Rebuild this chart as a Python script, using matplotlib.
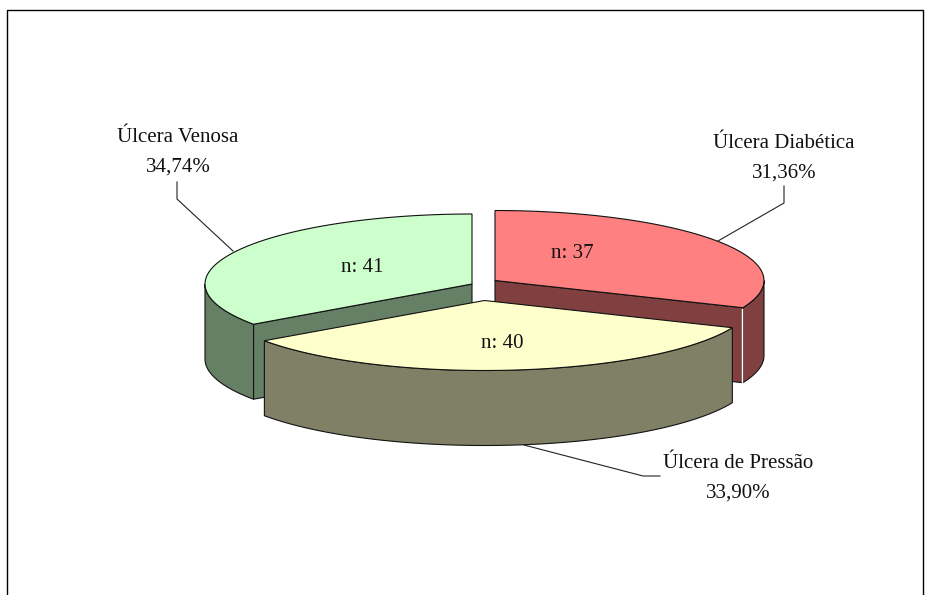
import numpy as np
import matplotlib
matplotlib.use("Agg")
import matplotlib.pyplot as plt
from matplotlib.patches import Polygon

# --- data ---
categories = ["Úlcera Diabética", "Úlcera de Pressão", "Úlcera Venosa"]
counts = [37, 40, 41]
percent_labels = ["31,36%", "33,90%", "34,74%"]

# --- style / layout (pixel space of the 931x595 canvas) ---
top_colors = ["#FF8080", "#FFFFCC", "#CCFFCC"]
side_colors = ["#804040", "#808066", "#668066"]
centers = [(495, 280.5), (484.5, 300.5), (472, 284)]
radii_x = [269, 269, 267]
label_pos = [(784, 143), (738, 463), (178, 137)]
count_pos = [(572, 254), (502, 343), (362, 267)]
leaders = [[(784, 186), (784, 203), (718, 241)],
           [(524, 445), (643, 476), (660, 476)],
           [(177, 182), (177, 199), (233, 251)]]
RY, DEPTH = 70, 75
FS = 15
LINE_GAP = 30

plt.rcParams["font.family"] = ["Liberation Serif", "DejaVu Serif"]
fig = plt.figure(figsize=(9.31, 5.95), dpi=100, facecolor="white")
ax = fig.add_axes([0, 0, 1, 1])
ax.set_xlim(0, 931)
ax.set_ylim(595, 0)
ax.axis("off")

# frame (its bottom edge lies outside the picture)
ax.plot([6.7, 6.7, 922.7, 922.7], [600, 9.8, 9.8, 600], color="black", lw=1.0, zorder=1)


def rim(c, rx, a0, a1, n=60):
    t = np.radians(np.linspace(a0, a1, n))
    return np.column_stack([c[0] + rx * np.cos(t), c[1] - RY * np.sin(t)])


# slice angles, clockwise from 12 o'clock
total = sum(counts)
edges = 90 - 360 * np.cumsum([0] + counts) / total
order = [0, 2, 1]  # red, green behind; yellow in front
EC = "#111111"
LW = 0.8

for i in order:
    c = centers[i]
    rx = radii_x[i]
    a0, a1 = edges[i], edges[i + 1]
    z = 2 + order.index(i) * 5
    r = rim(c, rx, a0, a1)

    # front-facing cut wall
    if i == 0:
        corner = r[-1]
        wall = [c, corner, corner + [0, DEPTH], (c[0], c[1] + DEPTH)]
    elif i == 2:
        corner = r[0]
        wall = [c, corner, corner + [0, DEPTH], (c[0], c[1] + DEPTH)]
    else:
        wall = None
    if wall is not None:
        ax.add_patch(Polygon(wall, closed=True, fc=side_colors[i], ec=EC, lw=LW, zorder=z))

    # outer rim side: only the part facing the viewer
    lo, hi = max(a1, -180), min(a0, 0)
    if i == 2:
        lo, hi = -180, a0
    if hi > lo:
        s = rim(c, rx, hi, lo)
        side = np.vstack([s, s[::-1] + [0, DEPTH]])
        ax.add_patch(Polygon(side, closed=True, fc=side_colors[i], ec=EC, lw=LW, zorder=z + 1))

    # top face
    ax.add_patch(Polygon(np.vstack([[c], r]), closed=True, fc=top_colors[i], ec=EC, lw=LW, zorder=z + 2))

    # white glint at the red slice's front corner
    if i == 0:
        cx = r[-1][0] - 0.5
        ax.plot([cx, cx], [r[-1][1] + 1, r[-1][1] + DEPTH], color="white", lw=1.0, zorder=z + 3)

for i in range(3):
    (x, y) = label_pos[i]
    ax.text(x, y, categories[i], ha="center", va="center", fontsize=FS, color="#111111", zorder=30)
    ax.text(x, y + LINE_GAP, percent_labels[i], ha="center", va="center", fontsize=FS, color="#111111", zorder=30)
    ax.text(*count_pos[i], f"n: {counts[i]}", ha="center", va="center", fontsize=FS, color="#111111", zorder=30)
    pts = np.array(leaders[i])
    ax.plot(pts[:, 0], pts[:, 1], color="#222222", lw=0.8, zorder=1.5)

fig.savefig("out.png", dpi=100)
